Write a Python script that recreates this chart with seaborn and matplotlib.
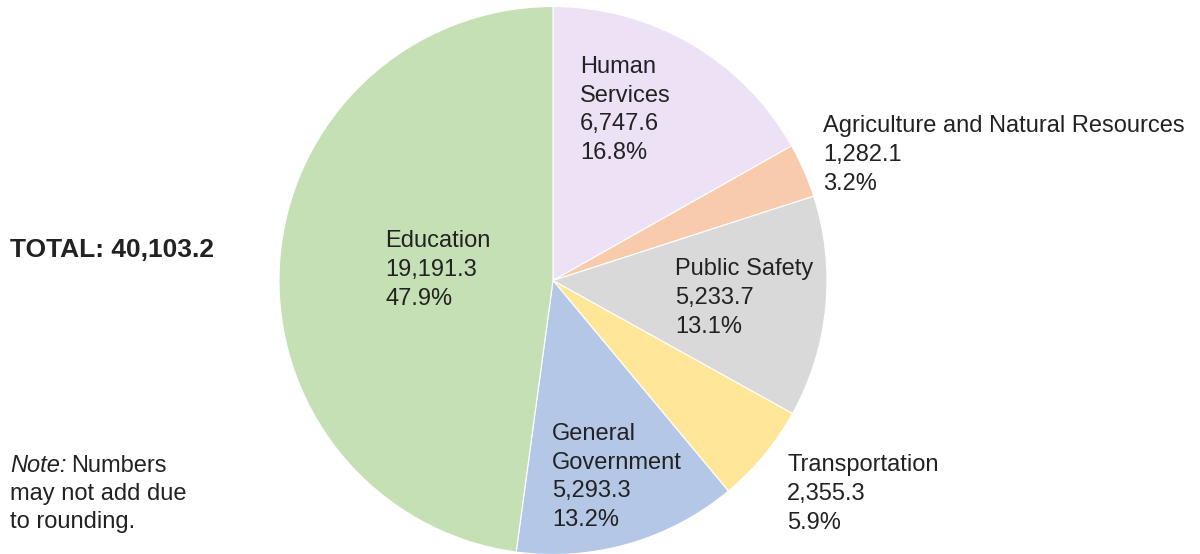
import matplotlib
matplotlib.use("Agg")
import matplotlib.pyplot as plt
import seaborn as sns

# data (clockwise from 12 o'clock)
categories = ["Human\nServices", "Agriculture and Natural Resources", "Public Safety",
              "Transportation", "General\nGovernment", "Education"]
values = [6747.6, 1282.1, 5233.7, 2355.3, 5293.3, 19191.3]
value_labels = ["6,747.6", "1,282.1", "5,233.7", "2,355.3", "5,293.3", "19,191.3"]
pct_labels = ["16.8%", "3.2%", "13.1%", "5.9%", "13.2%", "47.9%"]
total_label = "TOTAL: 40,103.2"

colors = ["#ede1f6", "#f8cbad", "#d9d9d9", "#ffe699", "#b4c7e7", "#c5e0b4"]
# label anchor (left x, vertical center y) in pixels from the top-left corner
label_pos = [(580, 110), (823, 155), (675, 298), (787, 494), (552, 477), (385, 270)]

sns.set_theme(style="white")
plt.rcParams["font.family"] = ["Liberation Sans", "DejaVu Sans"]
txt_color = "#222222"

W, H = 1200, 554
fig = plt.figure(figsize=(W / 100, H / 100), dpi=100)

cx, cy, r = 553, 280.5, 274
ax = fig.add_axes([(cx - r) / W, (H - cy - r) / H, 2 * r / W, 2 * r / H])
ax.pie(values, colors=colors, startangle=90, counterclock=False,
       wedgeprops=dict(edgecolor="white", linewidth=0.8))
ax.set_aspect("equal")
ax.set_xlim(-1, 1)
ax.set_ylim(-1, 1)
ax.axis("off")

fs = 17
ls = 1.4
for cat, v, p, (px, py) in zip(categories, value_labels, pct_labels, label_pos):
    fig.text(px / W, 1 - py / H, f"{cat}\n{v}\n{p}", ha="left", va="center",
             fontsize=fs, color=txt_color, linespacing=ls)

fig.text(10 / W, 1 - 250 / H, total_label, ha="left", va="center",
         fontsize=19, fontweight="bold", color=txt_color)

# note with italic lead word
note = fig.text(10 / W, 1 - 466 / H, "Note:", ha="left", va="center",
                fontsize=fs, style="italic", color=txt_color)
renderer = fig.canvas.get_renderer()
bb = note.get_window_extent(renderer)
fig.text((bb.x1 + 5) / W, 1 - 466 / H, "Numbers", ha="left", va="center",
         fontsize=fs, color=txt_color)
fig.text(10 / W, 1 - 508 / H, "may not add due\nto rounding.", ha="left", va="center",
         fontsize=fs, color=txt_color, linespacing=ls)

fig.savefig("out.png", dpi=100, facecolor="white")
